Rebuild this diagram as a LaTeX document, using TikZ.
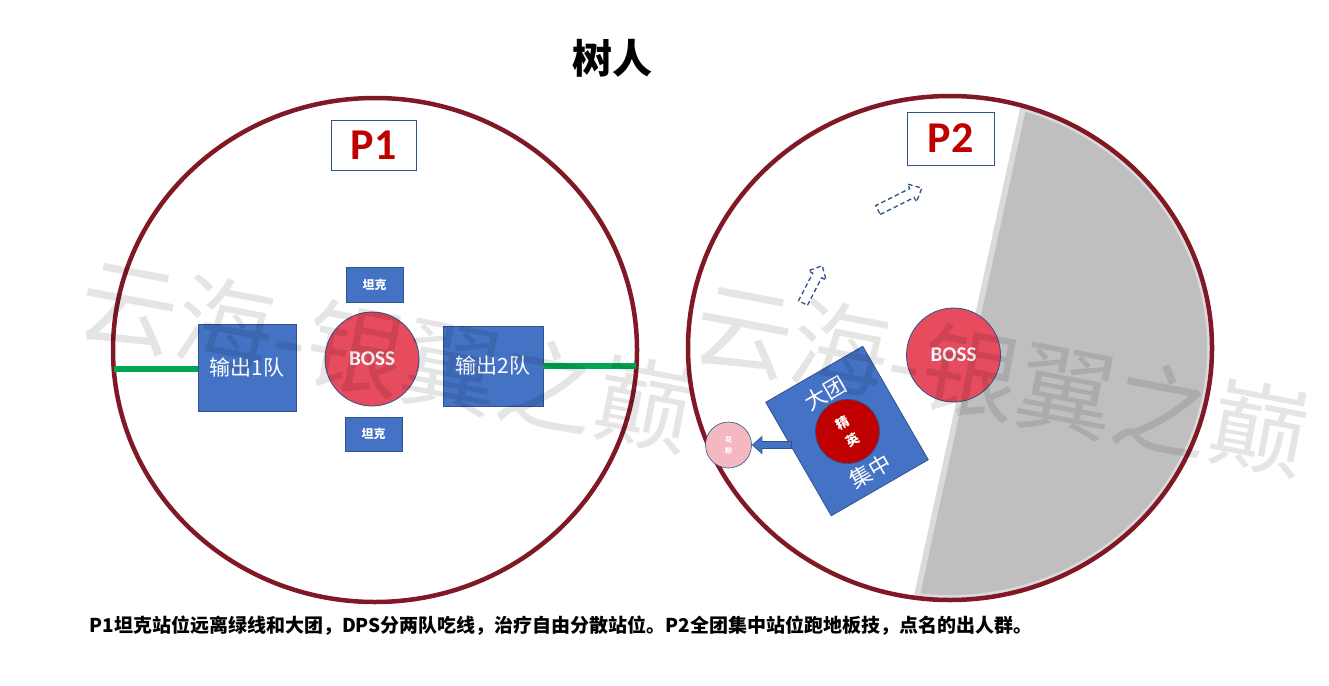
\documentclass[tikz,border=0pt]{standalone}
\usepackage{fontspec}
\setmainfont{Carlito}
\newfontfamily\cjk{Noto Sans CJK SC}
\usetikzlibrary{shapes.geometric,arrows.meta,calc}
\definecolor{ringred}{RGB}{128,24,38}
\definecolor{boxblue}{RGB}{68,114,196}
\definecolor{edgeblue}{RGB}{47,82,143}
\definecolor{bossred}{RGB}{230,75,94}
\definecolor{elitered}{RGB}{192,0,0}
\definecolor{pinkc}{RGB}{244,184,193}
\definecolor{lgreen}{RGB}{0,166,81}
\definecolor{ptred}{RGB}{192,0,0}
\definecolor{segdark}{RGB}{191,191,191}
\definecolor{seglight}{RGB}{218,218,218}
\tikzset{
  ring/.style={ellipse, draw=ringred, line width=4.5pt, minimum width=524pt, minimum height=504pt, inner sep=0pt},
  phasebox/.style={draw=edgeblue, fill=white, line width=0.8pt, inner sep=0pt, text=ptred, font=\bfseries\fontsize{44}{44}\selectfont},
  team/.style={fill=boxblue, draw=edgeblue, line width=0.8pt, inner sep=0pt, text=white},
  bossc/.style={circle, fill=bossred, draw=edgeblue, line width=0.8pt, minimum size=94pt, inner sep=0pt, text=white, font=\bfseries\fontsize{21}{21}\selectfont},
  greenline/.style={draw=lgreen, line width=6pt},
  dasharrow/.style={draw=edgeblue, line width=1.3pt, dash pattern=on 4.5pt off 3pt},
  watermark/.style={text=black, text opacity=0.10, font=\cjk\fontsize{98}{98}\selectfont, inner sep=0pt}
}
\begin{document}
\begin{tikzpicture}[x=1pt,y=1pt]
\useasboundingbox (0,0) rectangle (1329,-685);
\fill[white] (0,0) rectangle (1329,-685);

% title
\node[font=\cjk\bfseries\fontsize{40}{40}\selectfont] (title) at (612,-58) {树人};

% ---------- P1 ----------
\node[ring] (c1) at (375,-350) {};
\node[phasebox, minimum width=85pt, minimum height=50pt] (p1) at (373.5,-145) {P1};

\node[team, minimum width=98pt, minimum height=87pt, font=\cjk\fontsize{21}{21}\selectfont] (o1) at (247,-367.5) {输出1队};
\node[team, minimum width=100pt, minimum height=80pt, font=\cjk\fontsize{21}{21}\selectfont] (o2) at (493,-366) {输出2队};
\node[bossc] (b1) at (372,-359) {BOSS};
\node[team, minimum width=57pt, minimum height=35pt, font=\cjk\bfseries\fontsize{12}{12}\selectfont] (t1) at (374.5,-284.5) {坦克};
\node[team, minimum width=57pt, minimum height=34pt, font=\cjk\bfseries\fontsize{12}{12}\selectfont] (t2) at (373.5,-434) {坦克};

\coordinate (gl) at (114,-369);
\coordinate (gr) at (636,-366);
\draw[greenline] (gl) -- (gl -| o1.west);
\draw[greenline] (o2.east |- gr) -- (gr);

% ---------- P2 ----------
\begin{scope}
  \clip (950,-348) ellipse [x radius=262, y radius=252];
  \fill[seglight] (1035,-40) -- (900,-660) -- (1300,-660) -- (1300,-40) -- cycle;
  \begin{scope}
    \clip (950,-348) ellipse [x radius=257, y radius=247];
    \fill[segdark] (1041,-40) -- (906,-660) -- (1300,-660) -- (1300,-40) -- cycle;
  \end{scope}
\end{scope}
\node[ring] (c2) at (950,-348) {};
\node[phasebox, minimum width=87pt, minimum height=53pt] (p2) at (950.5,-138.5) {P2};

\node[bossc] (b2) at (953.5,-355) {BOSS};

\node[team, rotate=30, minimum width=112pt, minimum height=131pt] (sq) at (847,-431) {};
\node[rotate=30, text=white, font=\cjk\fontsize{22}{22}\selectfont] (dt) at ($(sq.center)+(-22,38)$) {大团};
\node[rotate=30, text=white, font=\cjk\fontsize{22}{22}\selectfont] (jz) at ($(sq.center)+(23,-40)$) {集中};
\node[circle, rotate=30, fill=elitered, draw=edgeblue, line width=0.8pt, minimum size=64pt, inner sep=0pt, align=center, text=white, font=\cjk\bfseries\fontsize{13}{20}\selectfont] (jy) at (847.5,-431.5) {精\\英};

\node[circle, fill=pinkc, draw=edgeblue, line width=0.6pt, minimum size=46pt, inner sep=0pt, align=center, text=white, font=\cjk\bfseries\fontsize{7}{11}\selectfont] (hf) at (728.5,-445) {花\\粉};
\coordinate (at) at (792,-445);
\draw[edgeblue, line width=8.4pt, -{Triangle[width=18pt,length=10.5pt]}] (at) -- (at -| hf.east);
\draw[boxblue, line width=6.6pt, shorten >=1.3pt, -{Triangle[width=15.5pt,length=8.5pt]}] ($(at)+(-0.8,0)$) -- (at -| hf.east);

% dashed hint arrows
\begin{scope}[shift={(878,-210)}, rotate=26.6]
  \draw[dasharrow] (0,-5) -- (38,-5) -- (38,-10) -- (49,0) -- (38,10) -- (38,5) -- (0,5) -- cycle;
\end{scope}
\begin{scope}[shift={(803,-303)}, rotate=62.8]
  \draw[dasharrow] (0,-5) -- (31,-5) -- (31,-10) -- (42,0) -- (31,10) -- (31,5) -- (0,5) -- cycle;
\end{scope}

% note
\node[font=\cjk\bfseries\fontsize{19}{19}\selectfont] (note) at (561,-626) {P1坦克站位远离绿线和大团，DPS分两队吃线，治疗自由分散站位。P2全团集中站位跑地板技，点名的出人群。};

% watermark
\node[watermark, rotate=-10.8] (wm1) at (387,-355) {云海-银翼之巅};
\node[watermark, rotate=-10.8] (wm2) at (1002,-379) {云海-银翼之巅};
\end{tikzpicture}
\end{document}
